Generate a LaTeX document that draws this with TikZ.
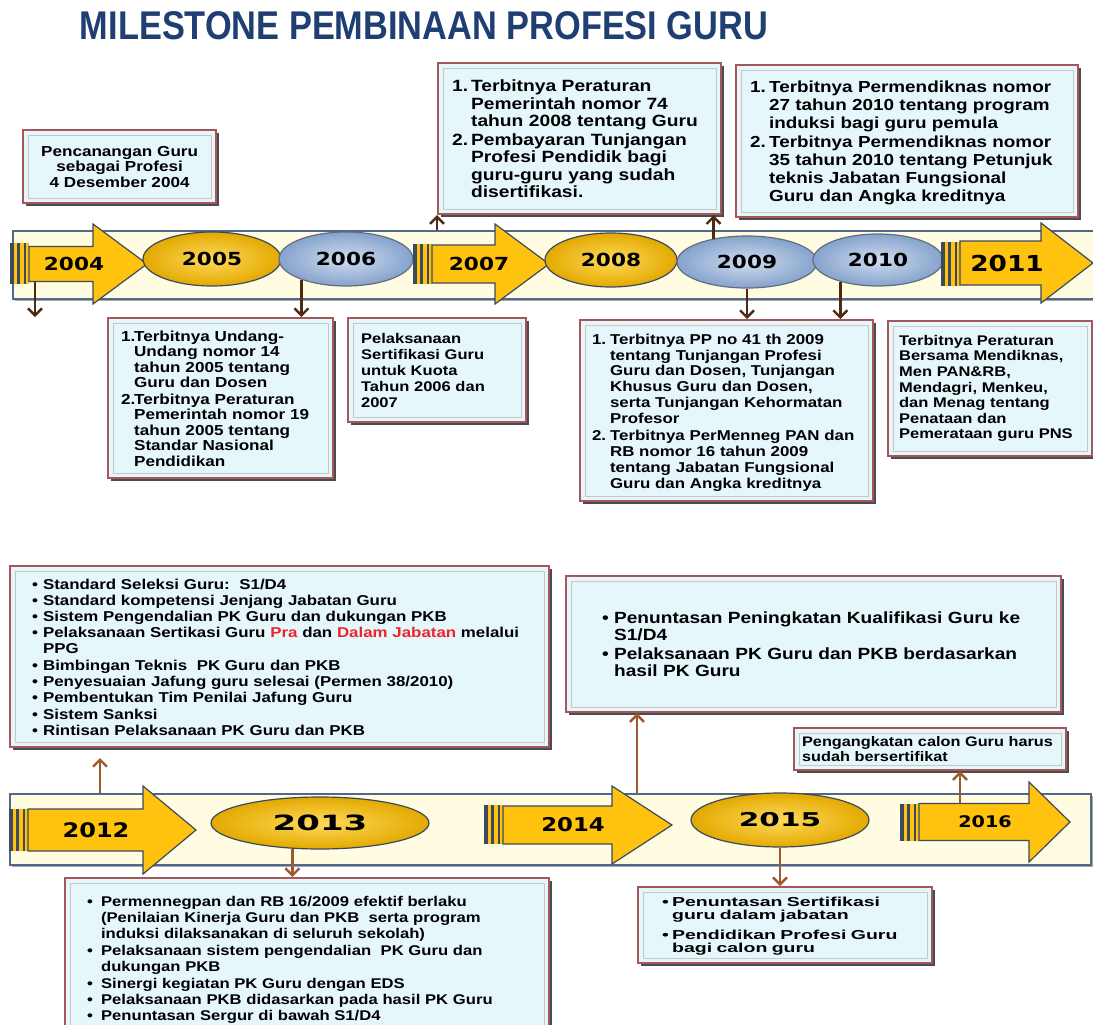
\documentclass[tikz,border=0pt]{standalone}
\usepackage{fontspec}
\setmainfont{Liberation Sans}[FakeStretch=1.18]
\newfontfamily\yearfont{DejaVu Sans}[FakeStretch=1.2]
\newfontfamily\widefont{Liberation Sans}[FakeStretch=1.5]
\usepackage{xcolor}
\usepackage{graphicx}
\usepackage{tikz}
\usetikzlibrary{arrows.meta,positioning,calc,shapes.geometric,shadows}

\definecolor{gold}{HTML}{FFC20E}
\definecolor{golddark}{HTML}{E3A900}
\definecolor{goldlight}{HTML}{FFDA5C}
\definecolor{steeldark}{HTML}{86A3CC}
\definecolor{steellight}{HTML}{CFDDF0}
\definecolor{slate}{HTML}{3B4A5E}
\definecolor{barfill}{HTML}{FFFCE2}
\definecolor{barline}{HTML}{52688A}
\definecolor{boxfill}{HTML}{E6F7FB}
\definecolor{boxline}{HTML}{A5575A}
\definecolor{navy}{HTML}{1F3F73}
\definecolor{brownA}{HTML}{4E2A12}
\definecolor{brownB}{HTML}{9C5A2E}
\definecolor{hilite}{HTML}{E8262A}

% list item: label in a fixed box, its lines stacked beside it
\newcommand{\itm}[3]{\par\noindent\makebox[#1][l]{#2}\begin{tabular}[t]{@{}l@{}}#3\end{tabular}}
% year arrow: tail x, head x, tip x, centre y, half body, half head
\newcommand{\timearrow}[6]{\draw[yarrow] (#1,#4-#5) -- (#2,#4-#5) -- (#2,#4-#6) -- (#3,#4) -- (#2,#4+#6) -- (#2,#4+#5) -- (#1,#4+#5) -- cycle;}
% dark bands in front of a year arrow
\newcommand{\stripes}[3]{%
  \fill[gold] (#1,#2) rectangle (#1+19,#3);
  \fill[slate] (#1,#2) rectangle (#1+4,#3);
  \fill[slate] (#1+7,#2) rectangle (#1+10,#3);
  \fill[slate] (#1+14,#2) rectangle (#1+16,#3);}

\begin{document}
\begin{tikzpicture}[x=1pt, y=-1pt,
  info/.style={draw=boxline, line width=2.2pt, fill=boxfill, anchor=north west, align=left, inner ysep=0pt,
    drop shadow={shadow xshift=2.5pt, shadow yshift=-2.5pt, fill=black!70, opacity=1},
    path picture={\draw[black!22, line width=0.8pt] ([shift={(5pt,5pt)}]path picture bounding box.south west)
      rectangle ([shift={(-5pt,-5pt)}]path picture bounding box.north east);}},
  tl/.style={draw=barline, line width=2pt, fill=barfill, inner sep=0pt, anchor=north west,
    drop shadow={shadow xshift=2pt, shadow yshift=-2pt, fill=black!35, opacity=1}},
  yarrow/.style={draw=slate, line width=1.2pt, fill=gold},
  yr/.style={font=\yearfont\bfseries\fontsize{#1}{#1}\selectfont, text=black, inner sep=0pt},
  goldell/.style={ellipse, draw=slate, line width=1.2pt, inner color=goldlight, outer color=golddark},
  blueell/.style={ellipse, draw=slate!80, line width=1.2pt, inner color=steellight, outer color=steeldark},
  arr/.style={draw=brownA, line width=2.4pt, -{Straight Barb[length=7pt,width=14pt]}},
  arrb/.style={arr, draw=brownB}
]
\useasboundingbox (0,0) rectangle (1093,1025);
\fill[white] (0,0) rectangle (1093,1025);

% title
\node[text=navy] (title) at (424,26) {\bfseries\resizebox{688pt}{28pt}{MILESTONE PEMBINAAN PROFESI GURU}};

% upper time line
\node[tl, minimum width=1090pt, minimum height=68pt] (bar1) at (12,230) {};
\stripes{10}{243}{284}
\timearrow{29}{93}{147}{264}{17.5}{40}
\node[yr=18, minimum height=35pt] (y2004) at (74,264) {2004};
\node[goldell, yr=18, minimum width=138pt, minimum height=54pt] (e2005) at (212,259) {2005};
\node[blueell, yr=18, minimum width=134pt, minimum height=54pt] (e2006) at (346,259) {2006};
\stripes{413}{244}{284}
\timearrow{432}{495}{549}{264}{19}{40}
\node[yr=18, minimum height=38pt] (y2007) at (479,264) {2007};
\node[goldell, yr=18, minimum width=132pt, minimum height=54pt] (e2008) at (611,260) {2008};
\node[blueell, yr=18, minimum width=140pt, minimum height=52pt] (e2009) at (747,262) {2009};
\node[blueell, yr=18, minimum width=130pt, minimum height=52pt] (e2010) at (878,260) {2010};
\stripes{941}{242}{286}
\timearrow{960}{1041}{1093}{263}{22}{40}
\node[yr=22, minimum height=44pt] (y2011) at (1007,263) {2011};

% upper boxes
\node[info, align=center, minimum height=73pt, text width=165pt, inner xsep=14pt,
  font=\bfseries\fontsize{14.5}{15.5}\selectfont] (b2004) at (22,129)
  {Pencanangan Guru\\ sebagai Profesi\\ 4 Desember 2004};
\node[info, minimum height=151pt, text width=255pt, inner xsep=14pt,
  font=\bfseries\fontsize{16.3}{17.5}\selectfont] (b2008) at (437,62)
  {\itm{19pt}{1.}{Terbitnya Peraturan\\ Pemerintah nomor 74\\ tahun 2008 tentang Guru}
   \itm{19pt}{2.}{Pembayaran Tunjangan\\ Profesi Pendidik bagi\\ guru-guru yang sudah\\ disertifikasi.}};
\node[info, minimum height=152pt, text width=314pt, inner xsep=14pt,
  font=\bfseries\fontsize{16}{18}\selectfont] (b2010) at (735,64)
  {\itm{19pt}{1.}{Terbitnya Permendiknas nomor\\ 27 tahun 2010 tentang program\\ induksi bagi guru pemula}
   \itm{19pt}{2.}{Terbitnya Permendiknas nomor\\ 35 tahun 2010 tentang Petunjuk\\ teknis Jabatan Fungsional\\ Guru dan Angka kreditnya}};

% lower boxes of the upper line
\node[info, minimum height=160pt, text width=199pt, inner xsep=13pt,
  font=\bfseries\fontsize{14.5}{15.5}\selectfont] (b2005) at (107,317)
  {\itm{13pt}{1.}{Terbitnya Undang-\\ Undang nomor 14\\ tahun 2005 tentang\\ Guru dan Dosen}
   \itm{13pt}{2.}{Terbitnya Peraturan\\ Pemerintah nomor 19\\ tahun 2005 tentang\\ Standar Nasional\\ Pendidikan}};
\node[info, minimum height=104pt, text width=152pt, inner xsep=13pt,
  font=\bfseries\fontsize{14}{16}\selectfont] (bkuota) at (347,317)
  {Pelaksanaan\\ Sertifikasi Guru\\ untuk Kuota\\ Tahun 2006 dan\\ 2007};
\node[info, minimum height=181pt, text width=269pt, inner xsep=12pt,
  font=\bfseries\fontsize{14.3}{15.9}\selectfont] (b2009) at (579,319)
  {\itm{18pt}{1.}{Terbitnya PP no 41 th 2009\\ tentang Tunjangan Profesi\\ Guru dan Dosen, Tunjangan\\ Khusus Guru dan Dosen,\\ serta Tunjangan Kehormatan\\ Profesor}
   \itm{18pt}{2.}{Terbitnya PerMenneg PAN dan\\ RB nomor 16 tahun 2009\\ tentang Jabatan Fungsional\\ Guru dan Angka kreditnya}};
\node[info, minimum height=135pt, text width=182pt, inner xsep=11pt,
  font=\bfseries\fontsize{14}{15.6}\selectfont] (b2011) at (887,320)
  {Terbitnya Peraturan\\ Bersama Mendiknas,\\ Men PAN\&RB,\\ Mendagri, Menkeu,\\ dan Menag tentang\\ Penataan dan\\ Pemerataan guru PNS};

\draw[arr] (e2006.205) -- (e2006.205 |- b2005.north);
\coordinate (k2004) at (35,317);
\draw[arr] (k2004 |- y2004.south) -- (k2004);
\draw[arr] (b2008.south west |- bar1.north) -- (b2008.south west);
\draw[arr] (e2009.145) -- (e2009.145 |- b2008.south);
\draw[arr] (e2009.south) -- (e2009.south |- b2009.north);
\draw[arr] (e2010.210) -- (e2010.210 |- b2009.north);

% lower time line
\node[tl, minimum width=1081pt, minimum height=71pt] (bar2) at (9,793) {};
\stripes{9}{809}{851}
\timearrow{28}{143}{196}{830}{21}{44}
\node[yr=20, minimum height=42pt] (y2012) at (96,830) {2012};
\node[goldell, yr=21, minimum width=218pt, minimum height=52pt] (e2013) at (320,823) {\scalebox{1.35}[1]{2013}};
\stripes{484}{805}{844}
\timearrow{503}{612}{672}{825}{19}{39}
\node[yr=19, minimum height=38pt] (y2014) at (573,825) {2014};
\node[goldell, yr=19, minimum width=178pt, minimum height=54pt] (e2015) at (780,820) {\scalebox{1.3}[1]{2015}};
\stripes{900}{804}{841}
\timearrow{919}{1029}{1070}{822}{18.5}{40}
\node[yr=16, minimum height=37pt] (y2016) at (985,822) {2016};

% boxes of the lower line
\node[info, minimum height=181pt, text width=495pt, inner xsep=22pt,
  font=\bfseries\fontsize{14.3}{16.1}\selectfont] (b2012) at (9,565)
  {\itm{11pt}{•}{Standard Seleksi Guru:\ \ S1/D4}
   \itm{11pt}{•}{Standard kompetensi Jenjang Jabatan Guru}
   \itm{11pt}{•}{Sistem Pengendalian PK Guru dan dukungan PKB}
   \itm{11pt}{•}{Pelaksanaan Sertikasi Guru {\color{hilite}Pra} dan {\color{hilite}Dalam Jabatan} melalui\\ PPG}
   \itm{11pt}{•}{Bimbingan Teknis\ \ PK Guru dan PKB}
   \itm{11pt}{•}{Penyesuaian Jafung guru selesai (Permen 38/2010)}
   \itm{11pt}{•}{Pembentukan Tim Penilai Jafung Guru}
   \itm{11pt}{•}{Sistem Sanksi}
   \itm{11pt}{•}{Rintisan Pelaksanaan PK Guru dan PKB}};
\node[info, minimum height=136pt, text width=423pt, inner xsep=36pt,
  font=\bfseries\fontsize{16.2}{17.5}\selectfont] (b2014) at (565,575)
  {\itm{12pt}{•}{Penuntasan Peningkatan Kualifikasi Guru ke\\ S1/D4}
   \itm{12pt}{•}{Pelaksanaan PK Guru dan PKB berdasarkan\\ hasil PK Guru}};
\node[info, minimum height=42pt, text width=256pt, inner xsep=8pt,
  font=\bfseries\fontsize{13.8}{15}\selectfont] (b2016) at (793,727)
  {Pengangkatan calon Guru harus\\ sudah bersertifikat};
\node[info, minimum height=159pt, text width=440pt, inner xsep=22pt,
  font=\bfseries\fontsize{14.1}{16}\selectfont] (b2013) at (64,877)
  {\itm{14pt}{•}{Permennegpan dan RB 16/2009 efektif berlaku\\ (Penilaian Kinerja Guru dan PKB\ \ serta program\\ induksi dilaksanakan di seluruh sekolah)}
   \itm{14pt}{•}{Pelaksanaan sistem pengendalian\ \ PK Guru dan\\ dukungan PKB}
   \itm{14pt}{•}{Sinergi kegiatan PK Guru dengan EDS}
   \itm{14pt}{•}{Pelaksanaan PKB didasarkan pada hasil PK Guru}
   \itm{14pt}{•}{Penuntasan Sergur di bawah S1/D4}};
\node[info, minimum height=76pt, text width=246pt, inner xsep=24pt,
  font=\widefont\bfseries\fontsize{13}{12.5}\selectfont] (b2015) at (637,886)
  {\itm{10pt}{•}{Penuntasan Sertifikasi\\ guru dalam jabatan}\par\vspace{5pt}
   \itm{10pt}{•}{Pendidikan Profesi Guru\\ bagi calon guru}};

\coordinate (k2012) at (100,758);
\draw[arrb] (k2012 |- bar2.north) -- (k2012);
\draw[arrb] (e2013.223) -- (e2013.223 |- b2013.north);
\coordinate (u2014) at ([xshift=72pt]b2014.south west);
\draw[arrb] (u2014 |- bar2.north) -- (u2014);
\draw[arrb] (e2015.south) -- (e2015.south |- b2015.north);
\coordinate (u2016) at ([xshift=167pt]b2016.south west);
\draw[arrb] (u2016 |- y2016.north) -- (u2016);
\end{tikzpicture}
\end{document}
